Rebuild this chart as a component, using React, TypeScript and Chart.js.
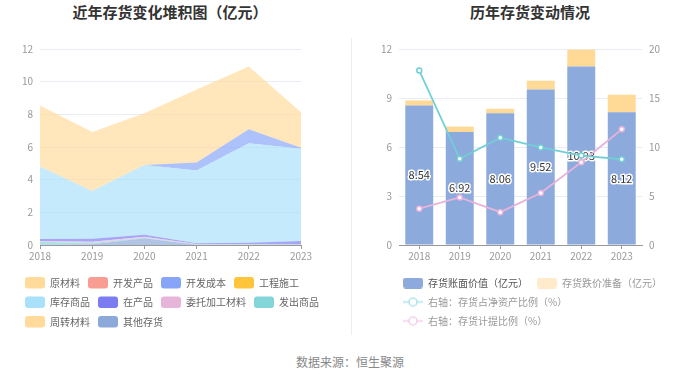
import React, { useEffect, useRef } from 'react';
import { Chart, registerables } from 'chart.js';

Chart.register(...registerables);

const FONT = '"Noto Sans CJK SC", "Noto Sans", sans-serif';

// ---------- shared categories ----------
const years = ['2018', '2019', '2020', '2021', '2022', '2023'];

// ---------- left chart: stacked inventory components (亿元) ----------
const legendNamesLeft = ['原材料', '开发产品', '开发成本', '工程施工', '库存商品', '在产品', '委托加工材料', '发出商品', '周转材料', '其他存货'];
const legendColorsLeft = ['#FFDA9B', '#F99D93', '#86A4F8', '#FFC53A', '#A9E0FA', '#7B7CF0', '#E7B5DA', '#83D5D9', '#FFDA9B', '#8BAAD9'];
const rawMaterial = [3.74, 3.61, 3.16, 4.47, 3.84, 2.17];
const devProduct = [0, 0, 0, 0, 0, 0];
const devCost = [0, 0, 0, 0.49, 0.86, 0.06];
const construction = [0, 0, 0, 0, 0, 0];
const stockGoods = [4.43, 2.93, 4.27, 4.46, 6.09, 5.64];
const wip = [0.12, 0.18, 0.13, 0.04, 0.08, 0.2];
const consigned = [0.05, 0.07, 0.06, 0.03, 0.03, 0.02];
const shipped = [0.18, 0.08, 0.02, 0.01, 0.01, 0.01];
const turnover = [0, 0, 0, 0, 0, 0];
const otherInv = [0.02, 0.05, 0.42, 0.02, 0.02, 0.02];
const leftSeries = [rawMaterial, devProduct, devCost, construction, stockGoods, wip, consigned, shipped, turnover, otherInv];
const leftTicks = [0, 2, 4, 6, 8, 10, 12];

// ---------- right chart ----------
const bookValue = [8.54, 6.92, 8.06, 9.52, 10.93, 8.12];
const impairment = [0.31, 0.33, 0.28, 0.54, 1.03, 1.08];
const ratioNetAssets = [17.8, 8.8, 10.95, 9.95, 9.12, 8.75];
const provisionRatio = [3.7, 4.85, 3.35, 5.3, 8.45, 11.8];
const rightNames = ['存货账面价值（亿元）', '存货跌价准备（亿元）', '右轴：存货占净资产比例（%）', '右轴：存货计提比例（%）'];

function hexA(hex: string, a: number) {
  const n = parseInt(hex.slice(1), 16);
  return `rgba(${(n >> 16) & 255},${(n >> 8) & 255},${n & 255},${a})`;
}

function boxIcon(color: string) {
  const c = document.createElement('canvas');
  c.width = 20; c.height = 11;
  const ctx = c.getContext('2d')!;
  ctx.fillStyle = color;
  ctx.beginPath();
  (ctx as any).roundRect(0, 0, 20, 11, 3);
  ctx.fill();
  return c;
}
function lineIcon(color: string) {
  const c = document.createElement('canvas');
  c.width = 20; c.height = 11;
  const ctx = c.getContext('2d')!;
  ctx.strokeStyle = color;
  ctx.lineWidth = 1.5;
  ctx.beginPath(); ctx.moveTo(0, 5.5); ctx.lineTo(20, 5.5); ctx.stroke();
  ctx.beginPath(); ctx.arc(10, 5.5, 4, 0, Math.PI * 2);
  ctx.fillStyle = '#fff'; ctx.fill(); ctx.stroke();
  return c;
}

const barLabelPlugin = {
  id: 'barLabels',
  afterDatasetDraw(chart: any, args: any) {
    if (args.index !== 0) return;
    const ctx = chart.ctx;
    ctx.save();
    ctx.font = `11px ${FONT}`;
    ctx.textAlign = 'center';
    ctx.textBaseline = 'middle';
    ctx.lineWidth = 3;
    ctx.lineJoin = 'round';
    ctx.strokeStyle = '#fff';
    ctx.fillStyle = '#333';
    args.meta.data.forEach((el: any, i: number) => {
      const p = el.getProps(['x', 'y', 'base'], true);
      const y = (p.y + p.base) / 2;
      const t = bookValue[i].toFixed(2);
      ctx.strokeText(t, p.x, y);
      ctx.fillText(t, p.x, y);
    });
    ctx.restore();
  },
};

// shifts the legend box right so its rows start under the plot area
const shiftLegendPlugin = {
  id: 'shiftLegend',
  afterLayout(chart: any) {
    if (chart.legend) {
      chart.legend.left += 12;
      chart.legend.right += 12;
    }
  },
};

export default function App() {
  const leftRef = useRef<HTMLCanvasElement>(null);
  const rightRef = useRef<HTMLCanvasElement>(null);

  useEffect(() => {
    Chart.defaults.font.family = FONT;
    const n = leftSeries.length;
    const leftDatasets = [] as any[];
    for (let k = n - 1; k >= 0; k--) {
      const j = n - 1 - k;
      leftDatasets.push({
        label: legendNamesLeft[k],
        data: leftSeries[k],
        fill: j === 0 ? 'origin' : '-1',
        backgroundColor: hexA(legendColorsLeft[k], 0.68),
        borderColor: 'rgba(0,0,0,0)',
        borderWidth: 0,
        pointRadius: 0,
        tension: 0,
      });
    }
    const left = new Chart(leftRef.current!, {
      type: 'line',
      data: { labels: years, datasets: leftDatasets },
      options: {
        responsive: false,
        animation: false,
        layout: { padding: { left: 17, right: 10, top: 49, bottom: 2.5 } },
        scales: {
          x: {
            grid: { display: true, drawOnChartArea: false, tickLength: 4, color: '#999' },
            border: { display: true, color: '#999' },
            ticks: { color: '#999', font: { size: 10 }, padding: 1, maxRotation: 0, autoSkip: false },
            afterFit: (s: any) => { s.height = 24; },
          },
          y: {
            stacked: true,
            min: 0,
            max: 12,
            afterBuildTicks: (s: any) => { s.ticks = leftTicks.map((v) => ({ value: v })); },
            grid: { color: '#E9ECF4', drawTicks: false },
            border: { display: false },
            ticks: { color: '#999', font: { size: 10 }, padding: 7 },
            afterFit: (s: any) => { s.width = 23; },
          },
          pad: {
            type: 'linear',
            position: 'right',
            display: true,
            grid: { display: false, drawTicks: false },
            border: { display: false },
            ticks: { display: false },
            afterFit: (s: any) => { s.width = 39; },
          },
        },
        plugins: {
          tooltip: { enabled: false },
          legend: {
            position: 'bottom',
            align: 'start',
            labels: {
              boxWidth: 20,
              boxHeight: 11.5,
              padding: 8,
              color: '#666',
              font: { size: 10 },
              generateLabels: () =>
                legendNamesLeft.map((name, i) => ({
                  text: name,
                  fillStyle: legendColorsLeft[i],
                  strokeStyle: legendColorsLeft[i],
                  lineWidth: 0,
                  hidden: false,
                  datasetIndex: n - 1 - i,
                  borderRadius: 3,
                  fontColor: '#666',
                })),
            },
          },
        },
      },
    } as any);

    const rightIcons = [boxIcon('#8CAADB'), boxIcon('#FFEBCB'), lineIcon('#ADE3E8'), lineIcon('#F2CDE7')];
    const rightFontColors = ['#555', '#999', '#999', '#999'];
    const right = new Chart(rightRef.current!, {
      type: 'bar',
      data: {
        labels: years,
        datasets: [
          { type: 'bar', label: rightNames[0], data: bookValue, backgroundColor: '#8CAADB', stack: 's', order: 1, yAxisID: 'y', barPercentage: 0.69, categoryPercentage: 1 },
          { type: 'bar', label: rightNames[1], data: impairment, backgroundColor: '#FFD996', stack: 's', order: 1, yAxisID: 'y', barPercentage: 0.69, categoryPercentage: 1 },
          { type: 'line', label: rightNames[2], data: ratioNetAssets, borderColor: '#72CFD6', borderWidth: 1.8, pointRadius: 2.5, pointBackgroundColor: '#fff', pointBorderColor: '#72CFD6', pointBorderWidth: 1.5, yAxisID: 'y1', order: 0, tension: 0 },
          { type: 'line', label: rightNames[3], data: provisionRatio, borderColor: '#E8B3DA', borderWidth: 1.8, pointRadius: 2.5, pointBackgroundColor: '#fff', pointBorderColor: '#E8B3DA', pointBorderWidth: 1.5, yAxisID: 'y1', order: 0, tension: 0 },
        ],
      },
      options: {
        responsive: false,
        animation: false,
        layout: { padding: { left: 32, right: 15, top: 49, bottom: 4 } },
        scales: {
          x: {
            stacked: true,
            grid: { display: true, drawOnChartArea: false, offset: false, tickLength: 4, color: '#999' },
            border: { display: true, color: '#999' },
            ticks: { color: '#999', font: { size: 10 }, padding: 1, maxRotation: 0, autoSkip: false },
            afterFit: (s: any) => { s.height = 24; },
          },
          y: {
            stacked: true,
            position: 'left',
            min: 0,
            max: 12,
            ticks: { stepSize: 3, color: '#999', font: { size: 10 }, padding: 7 },
            grid: { color: '#E9ECF4', drawTicks: false },
            border: { display: false },
            afterFit: (s: any) => { s.width = 17; },
          },
          y1: {
            position: 'right',
            min: 0,
            max: 20,
            ticks: { stepSize: 5, color: '#999', font: { size: 10 }, padding: 7 },
            grid: { drawOnChartArea: false, drawTicks: false },
            border: { display: false },
            afterFit: (s: any) => { s.width = 43; },
          },
        },
        plugins: {
          tooltip: { enabled: false },
          legend: {
            position: 'bottom',
            align: 'start',
            labels: {
              usePointStyle: true,
              pointStyleWidth: 20,
              padding: 9,
              font: { size: 10 },
              color: '#999',
              generateLabels: () =>
                rightNames.map((name, i) => ({
                  text: name,
                  fillStyle: 'transparent',
                  strokeStyle: 'transparent',
                  lineWidth: 0,
                  hidden: false,
                  datasetIndex: i,
                  pointStyle: rightIcons[i],
                  fontColor: rightFontColors[i],
                })),
            },
          },
        },
      },
      plugins: [barLabelPlugin, shiftLegendPlugin],
    } as any);

    return () => {
      left.destroy();
      right.destroy();
    };
  }, []);

  return (
    <div style={{ position: 'fixed', left: 0, top: 0, width: 700, height: 378, background: '#fff', fontFamily: FONT, overflow: 'hidden' }}>
      <div style={{ position: 'absolute', left: 0, top: 2, width: 340, textAlign: 'center', fontSize: 15, fontWeight: 'bold', lineHeight: '20px', color: '#333' }}>
        近年存货变化堆积图（亿元）
      </div>
      <div style={{ position: 'absolute', left: 430, top: 2, width: 200, textAlign: 'center', fontSize: 15, fontWeight: 'bold', lineHeight: '20px', color: '#333' }}>
        历年存货变动情况
      </div>
      <div style={{ position: 'absolute', left: 351, top: 38, width: 1, height: 297, background: '#eee' }} />
      <canvas ref={leftRef} width={350} height={340} style={{ position: 'absolute', left: 0, top: 0, width: 350, height: 340 }} />
      <canvas ref={rightRef} width={350} height={340} style={{ position: 'absolute', left: 350, top: 0, width: 350, height: 340 }} />
      <div style={{ position: 'absolute', left: 250, top: 354, width: 200, textAlign: 'center', fontSize: 12, lineHeight: '16px', color: '#888' }}>
        数据来源：恒生聚源
      </div>
    </div>
  );
}
